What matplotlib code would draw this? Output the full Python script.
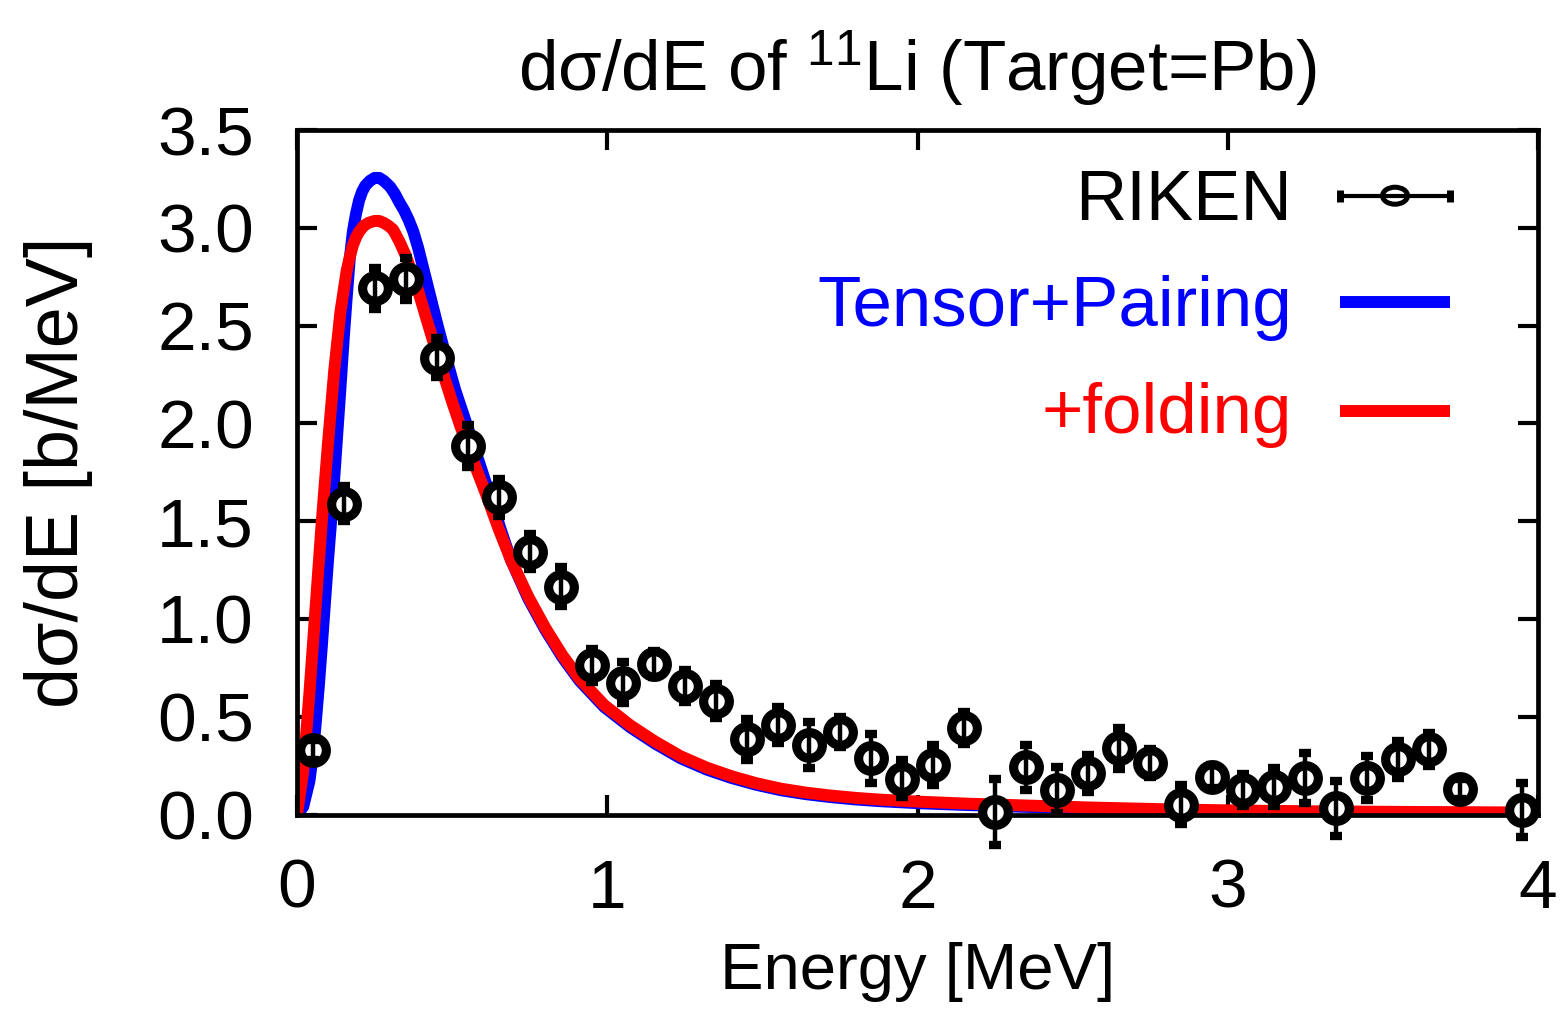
import numpy as np
import matplotlib
matplotlib.use("Agg")
import matplotlib.pyplot as plt
from matplotlib.patches import Ellipse

plt.rcParams['font.family'] = ['Liberation Sans', 'DejaVu Sans']
plt.rcParams['mathtext.fontset'] = 'custom'
plt.rcParams['mathtext.rm'] = 'Liberation Sans'
plt.rcParams['mathtext.it'] = 'Liberation Sans:italic'
plt.rcParams['mathtext.bf'] = 'Liberation Sans:bold'

# RIKEN Coulomb breakup data, 11Li on Pb
energy = [0.05, 0.15, 0.25, 0.35, 0.45, 0.55, 0.65, 0.75, 0.85, 0.95,
          1.05, 1.15, 1.25, 1.35, 1.45, 1.55, 1.65, 1.75, 1.85, 1.95,
          2.05, 2.15, 2.25, 2.35, 2.45, 2.55, 2.65, 2.75, 2.85, 2.95,
          3.05, 3.15, 3.25, 3.35, 3.45, 3.55, 3.65, 3.75, 3.95]
dsig = [0.33, 1.59, 2.69, 2.74, 2.335, 1.884, 1.622, 1.344, 1.165, 0.764,
        0.674, 0.769, 0.657, 0.58, 0.384, 0.458, 0.355, 0.423, 0.287, 0.182,
        0.253, 0.444, 0.014, 0.241, 0.125, 0.21, 0.338, 0.262, 0.049, 0.193,
        0.125, 0.139, 0.185, 0.032, 0.188, 0.282, 0.333, 0.129, 0.023]
dsig_err = [0.05, 0.09, 0.106, 0.108, 0.10, 0.106, 0.096, 0.089, 0.101, 0.084,
            0.106, 0.067, 0.082, 0.089, 0.103, 0.092, 0.118, 0.078, 0.125, 0.095,
            0.101, 0.081, 0.17, 0.115, 0.117, 0.093, 0.105, 0.072, 0.10, 0.06,
            0.083, 0.097, 0.128, 0.14, 0.112, 0.095, 0.084, 0.05, 0.14]

# Tensor+Pairing strength
e_tp = [0.0, 0.02, 0.04, 0.05, 0.06, 0.07, 0.08, 0.09, 0.10, 0.11,
        0.12, 0.13, 0.14, 0.15, 0.16, 0.17, 0.18, 0.19, 0.20, 0.21,
        0.22, 0.235, 0.25, 0.265, 0.28, 0.30, 0.315, 0.33, 0.345, 0.36,
        0.375, 0.39, 0.42, 0.45, 0.48, 0.51, 0.55, 0.585, 0.62, 0.655,
        0.69, 0.745, 0.80, 0.855, 0.91, 0.99, 1.075, 1.155, 1.236, 1.32,
        1.40, 1.48, 1.56, 1.64, 1.72, 1.80, 1.88, 2.0, 2.15, 2.33,
        2.55, 2.82, 3.05, 3.3, 3.6, 4.0]
s_tp = [0.0, 0.04, 0.17, 0.29, 0.46, 0.65, 0.86, 1.08, 1.30, 1.50,
        1.72, 1.95, 2.18, 2.42, 2.64, 2.84, 2.98, 3.07, 3.14, 3.185,
        3.215, 3.24, 3.255, 3.255, 3.24, 3.21, 3.175, 3.13, 3.09, 3.04,
        2.98, 2.90, 2.71, 2.52, 2.34, 2.17, 1.98, 1.81, 1.64, 1.465,
        1.30, 1.105, 0.945, 0.805, 0.685, 0.55, 0.445, 0.362, 0.288, 0.23,
        0.187, 0.152, 0.124, 0.104, 0.089, 0.077, 0.068, 0.058, 0.049, 0.040,
        0.030, 0.021, 0.016, 0.012, 0.009, 0.007]

# same with detector-response folding
e_fold = [0.0, 0.02, 0.04, 0.06, 0.08, 0.10, 0.12, 0.14, 0.16, 0.17,
          0.18, 0.19, 0.20, 0.215, 0.23, 0.25, 0.265, 0.28, 0.295, 0.31,
          0.33, 0.35, 0.37, 0.39, 0.42, 0.46, 0.50, 0.53, 0.57, 0.61,
          0.65, 0.69, 0.745, 0.80, 0.855, 0.91, 0.99, 1.075, 1.155, 1.236,
          1.32, 1.40, 1.48, 1.56, 1.64, 1.72, 1.80, 1.88, 2.0, 2.15,
          2.33, 2.55, 2.82, 3.05, 3.3, 3.6, 4.0]
s_fold = [0.0, 0.22, 0.62, 1.06, 1.50, 1.90, 2.27, 2.57, 2.78, 2.85,
          2.91, 2.95, 2.98, 3.01, 3.025, 3.035, 3.035, 3.025, 3.01, 2.99,
          2.93, 2.86, 2.77, 2.68, 2.52, 2.31, 2.11, 1.97, 1.80, 1.635,
          1.46, 1.30, 1.115, 0.955, 0.815, 0.695, 0.56, 0.455, 0.372, 0.298,
          0.24, 0.196, 0.16, 0.132, 0.112, 0.097, 0.085, 0.076, 0.066, 0.056,
          0.047, 0.036, 0.026, 0.020, 0.016, 0.013, 0.010]

FS = 50

fig = plt.figure(figsize=(15.66, 10.10), dpi=100)
ax = fig.add_axes([297 / 1566, 1 - 814.5 / 1010, 1241 / 1566, 684.5 / 1010])

ax.plot(e_tp, s_tp, color='#0000ff', lw=8.6, solid_joinstyle='round',
        solid_capstyle='butt', zorder=2)
ax.plot(e_fold, s_fold, color='#ff0000', lw=8.6, solid_joinstyle='round',
        solid_capstyle='butt', zorder=2.5)

# open circles with a white inside, bars drawn over them
ax.plot(energy, dsig, ls='none', marker='o', ms=18.5, mew=6.6, mec='black',
        mfc='white', zorder=3, clip_on=False)
ax.errorbar(energy, dsig, yerr=dsig_err, fmt='none', ecolor='black',
            elinewidth=3.2, capsize=4.6, capthick=6.0, zorder=4, clip_on=False)

ax.set_xlim(0, 4)
ax.set_ylim(0, 3.5)
ax.set_xticks([0, 1, 2, 3, 4])
ax.set_yticks(np.arange(0, 3.51, 0.5))
ax.set_yticklabels([f'{v:.1f}' for v in np.arange(0, 3.51, 0.5)])

for s in ax.spines.values():
    s.set_linewidth(3.4)
ax.tick_params(direction='in', length=14.5, width=3.0, top=True, right=True,
               labelsize=FS, pad=31)

ax.set_xlabel('Energy [MeV]', fontsize=47, labelpad=15)
ax.set_ylabel('dσ/dE [b/MeV]', fontsize=53, labelpad=46)
ax.set_title('dσ/dE of $^{11}$Li (Target=Pb)', fontsize=51, pad=28)

# key, right aligned text with samples to the right
tx = 0.8018
ax.text(tx, 0.8685, 'RIKEN', fontsize=51, ha='right', va='baseline',
        color='black', transform=ax.transAxes)
ax.text(tx, 0.7137, 'Tensor+Pairing', fontsize=51, ha='right', va='baseline',
        color='#0000ff', transform=ax.transAxes)
ax.text(tx, 0.5574, '+folding', fontsize=51, ha='right', va='baseline',
        color='#ff0000', transform=ax.transAxes)

x0, x1 = 0.8405, 0.929
ax.plot([x0, x1], [0.904, 0.904], color='black', lw=3.0,
        transform=ax.transAxes, solid_capstyle='butt', zorder=5)
ax.plot([x0, x1], [0.904, 0.904], ls='none', marker='|', ms=8.6, mew=5.0,
        color='black', transform=ax.transAxes, zorder=5)
ax.add_patch(Ellipse((0.8848, 0.904), 25 / 1241, 17 / 684.5, fc='none',
                     ec='black', lw=3.6, transform=ax.transAxes, zorder=6))
ax.plot([x0, x1], [0.748, 0.748], color='#0000ff', lw=8.6,
        solid_capstyle='butt', transform=ax.transAxes)
ax.plot([x0, x1], [0.590, 0.590], color='#ff0000', lw=8.6,
        solid_capstyle='butt', transform=ax.transAxes)

fig.savefig('out.png', dpi=100)
